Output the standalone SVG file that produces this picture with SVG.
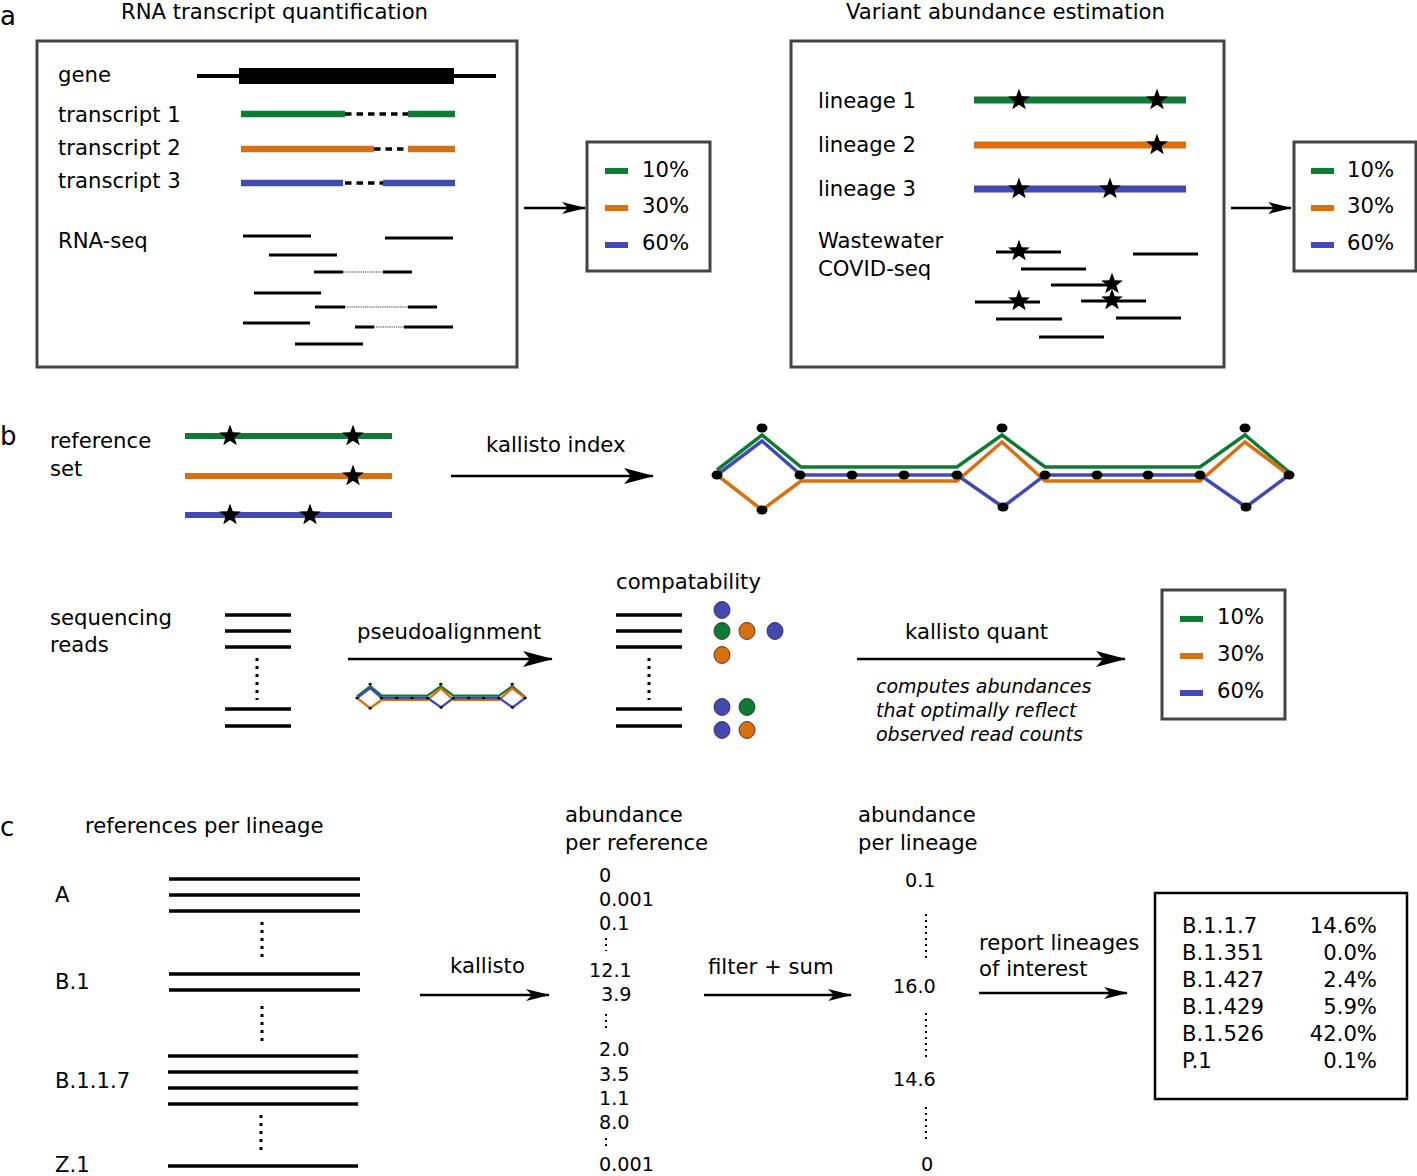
<svg xmlns="http://www.w3.org/2000/svg" xmlns:xlink="http://www.w3.org/1999/xlink" width="1417" height="1176" viewBox="0 0 1417 1176">
<style>
text{font-family:"DejaVu Sans","Liberation Sans",sans-serif;font-size:21.2px;fill:#000}
.lbl{font-size:26px}
.num{font-size:19.2px}
.it{font-size:19px;font-style:italic}
.box{fill:#fff;stroke:#444;stroke-width:3}
.g{stroke:#0f7a33;fill:none}
.o{stroke:#d96f0e;fill:none}
.b{stroke:#4349b3;fill:none}
.tr{stroke-width:6.5}
.ln{stroke-width:7}
.rd{stroke:#000;stroke-width:3}
.dash{stroke:#000;stroke-width:3.5;stroke-dasharray:6.5 5}
.dot{stroke:#333;stroke-width:1.2;stroke-dasharray:1.2 1}
.sw{stroke-width:6}
.arr{stroke:#000;stroke-width:2.5;fill:none}
.ref{stroke:#000;stroke-width:3.5}
.vd{stroke:#000;stroke-width:3;stroke-dasharray:3 5}
.nd{stroke:#000;stroke-width:2;stroke-dasharray:2 4}
.cg{fill:#0f7a33;stroke:#222;stroke-width:0.8}
.co{fill:#d96f0e;stroke:#222;stroke-width:0.8}
.cb{fill:#4349b3;stroke:#222;stroke-width:0.8}
</style>
<defs>
<marker id="ahL" markerUnits="userSpaceOnUse" viewBox="0 0 30 18" refX="29" refY="9" markerWidth="30" markerHeight="18" orient="auto"><path d="M0,1 L30,9 L0,17 L7,9 Z" fill="#000"/></marker>
<marker id="ahS" markerUnits="userSpaceOnUse" viewBox="0 0 24 14" refX="23" refY="7" markerWidth="24" markerHeight="14" orient="auto"><path d="M0,1 L24,7 L0,13 L6,7 Z" fill="#000"/></marker>
<path id="star" d="M0,-11.5 L2.75,-3.8 L10.9,-3.55 L4.45,1.45 L6.75,9.3 L0,4.7 L-6.75,9.3 L-4.45,1.45 L-10.9,-3.55 L-2.75,-3.8 Z" fill="#000"/>
<g id="graph">
<polyline class="g" points="0,-5 45,-40 84,-8 240,-8 285,-40 328,-8 483,-8 528,-40 572,-3"/>
<polyline class="o" points="0,0 45,35 84,6 240,6 285,-33 328,6 483,6 528,-33 572,0"/>
<polyline class="b" points="0,0 45,-34 84,0 240,0 286,32 328,0 483,0 529,32 572,0"/>
<g fill="#000">
<ellipse cx="0" cy="0" rx="5.5" ry="4.5"/><ellipse cx="45" cy="-47" rx="5.5" ry="4.5"/><ellipse cx="45" cy="35" rx="5.5" ry="4.5"/>
<ellipse cx="83" cy="0" rx="5.5" ry="4.5"/><ellipse cx="135" cy="0" rx="5.5" ry="4.5"/><ellipse cx="187" cy="0" rx="5.5" ry="4.5"/><ellipse cx="240" cy="0" rx="5.5" ry="4.5"/>
<ellipse cx="285" cy="-47" rx="5.5" ry="4.5"/><ellipse cx="286" cy="32" rx="5.5" ry="4.5"/>
<ellipse cx="328" cy="0" rx="5.5" ry="4.5"/><ellipse cx="380" cy="0" rx="5.5" ry="4.5"/><ellipse cx="431" cy="0" rx="5.5" ry="4.5"/><ellipse cx="483" cy="0" rx="5.5" ry="4.5"/>
<ellipse cx="528" cy="-47" rx="5.5" ry="4.5"/><ellipse cx="529" cy="32" rx="5.5" ry="4.5"/><ellipse cx="572" cy="0" rx="5.5" ry="4.5"/>
</g>
</g>
</defs>
<rect width="1417" height="1176" fill="#fff"/>

<!-- panel labels -->
<text class="lbl" x="0" y="25">a</text>
<text class="lbl" x="0" y="445">b</text>
<text class="lbl" x="0" y="836">c</text>

<!-- Panel a left -->
<g id="a-rna">
<text x="121" y="19">RNA transcript quantification</text>
<rect class="box" x="37" y="41" width="480" height="326"/>
<text x="58" y="82">gene</text>
<line x1="197" y1="76" x2="496" y2="76" stroke="#000" stroke-width="4"/>
<rect x="239" y="68" width="215" height="16" fill="#000"/>
<text x="58" y="122">transcript 1</text>
<text x="58" y="155">transcript 2</text>
<text x="58" y="188">transcript 3</text>
<line class="g tr" x1="241" y1="114" x2="345" y2="114"/><line class="dash" x1="345" y1="114" x2="408" y2="114"/><line class="g tr" x1="408" y1="114" x2="455" y2="114"/>
<line class="o tr" x1="241" y1="149" x2="374" y2="149"/><line class="dash" x1="374" y1="149" x2="408" y2="149"/><line class="o tr" x1="408" y1="149" x2="455" y2="149"/>
<line class="b tr" x1="241" y1="183" x2="343" y2="183"/><line class="dash" x1="345" y1="183" x2="386" y2="183"/><line class="b tr" x1="383" y1="183" x2="455" y2="183"/>
<text x="58" y="248">RNA-seq</text>
<line class="rd" x1="243" y1="236" x2="311" y2="236"/>
<line class="rd" x1="385" y1="238" x2="453" y2="238"/>
<line class="rd" x1="269" y1="255" x2="337" y2="255"/>
<line class="rd" x1="314" y1="272" x2="343" y2="272"/><line class="dot" x1="343" y1="272" x2="383" y2="272"/><line class="rd" x1="383" y1="272" x2="412" y2="272"/>
<line class="rd" x1="254" y1="293" x2="321" y2="293"/>
<line class="rd" x1="315" y1="307" x2="345" y2="307"/><line class="dot" x1="345" y1="307" x2="408" y2="307"/><line class="rd" x1="408" y1="307" x2="437" y2="307"/>
<line class="rd" x1="243" y1="323" x2="310" y2="323"/>
<line class="rd" x1="355" y1="327" x2="374" y2="327"/><line class="dot" x1="374" y1="327" x2="404" y2="327"/><line class="rd" x1="404" y1="327" x2="453" y2="327"/>
<line class="rd" x1="295" y1="344" x2="363" y2="344"/>
</g>

<g id="a-legend-1">
<rect class="box" x="587" y="142" width="123" height="129"/>
<line class="g sw" x1="605" y1="171" x2="628" y2="171"/><text x="642" y="177">10%</text>
<line class="o sw" x1="605" y1="208" x2="628" y2="208"/><text x="642" y="213">30%</text>
<line class="b sw" x1="605" y1="245" x2="628" y2="245"/><text x="642" y="250">60%</text>
</g>

<!-- Panel a right -->
<g id="a-variant">
<text x="846" y="19">Variant abundance estimation</text>
<rect class="box" x="791" y="41" width="433" height="326"/>
<text x="818" y="108">lineage 1</text>
<text x="818" y="152">lineage 2</text>
<text x="818" y="196">lineage 3</text>
<line class="g ln" x1="974" y1="100" x2="1186" y2="100"/>
<line class="o ln" x1="974" y1="145" x2="1186" y2="145"/>
<line class="b ln" x1="974" y1="189" x2="1186" y2="189"/>
<use xlink:href="#star" x="1019" y="100"/><use xlink:href="#star" x="1157" y="100"/>
<use xlink:href="#star" x="1157" y="145"/>
<use xlink:href="#star" x="1019" y="189"/><use xlink:href="#star" x="1110" y="189"/>
<text x="818" y="248">Wastewater</text>
<text x="818" y="276">COVID-seq</text>
<line class="rd" x1="996" y1="252" x2="1061" y2="252"/>
<line class="rd" x1="1133" y1="254" x2="1198" y2="254"/>
<line class="rd" x1="1021" y1="269" x2="1086" y2="269"/>
<line class="rd" x1="1051" y1="285" x2="1112" y2="285"/>
<line class="rd" x1="975" y1="302" x2="1040" y2="302"/>
<line class="rd" x1="1081" y1="301" x2="1146" y2="301"/>
<line class="rd" x1="996" y1="319" x2="1062" y2="319"/>
<line class="rd" x1="1116" y1="318" x2="1181" y2="318"/>
<line class="rd" x1="1039" y1="337" x2="1104" y2="337"/>
<use xlink:href="#star" x="1019" y="251"/>
<use xlink:href="#star" x="1112" y="284"/>
<use xlink:href="#star" x="1019" y="301"/>
<use xlink:href="#star" x="1112" y="300"/>
</g>

<g id="a-legend-2">
<rect class="box" x="1294" y="142" width="122" height="129"/>
<line class="g sw" x1="1311" y1="171" x2="1334" y2="171"/><text x="1347" y="177">10%</text>
<line class="o sw" x1="1311" y1="208" x2="1334" y2="208"/><text x="1347" y="213">30%</text>
<line class="b sw" x1="1311" y1="245" x2="1334" y2="245"/><text x="1347" y="250">60%</text>
</g>

<!-- Panel b -->
<g id="b-refset">
<text x="50" y="448">reference</text>
<text x="50" y="476">set</text>
<line class="g sw" x1="185" y1="436" x2="392" y2="436"/>
<line class="o sw" x1="185" y1="476" x2="392" y2="476"/>
<line class="b sw" x1="185" y1="515" x2="392" y2="515"/>
<use xlink:href="#star" x="230" y="436"/><use xlink:href="#star" x="353" y="436"/>
<use xlink:href="#star" x="353" y="476"/>
<use xlink:href="#star" x="230" y="515"/><use xlink:href="#star" x="310" y="515"/>
</g>

<g id="b-graph">
<use xlink:href="#graph" transform="translate(717,475)" stroke-width="3.5"/>
</g>

<g id="b-reads">
<text x="50" y="625">sequencing</text>
<text x="50" y="652">reads</text>
<line class="ref" x1="225" y1="615" x2="291" y2="615"/>
<line class="ref" x1="225" y1="631" x2="291" y2="631"/>
<line class="ref" x1="225" y1="647" x2="291" y2="647"/>
<line class="vd" x1="257" y1="658" x2="257" y2="700"/>
<line class="ref" x1="225" y1="709" x2="291" y2="709"/>
<line class="ref" x1="225" y1="726" x2="291" y2="726"/>
</g>

<g id="b-small-graph">
<use xlink:href="#graph" transform="translate(357,698) scale(0.294)" stroke-width="8"/>
</g>

<g id="b-compat">
<text x="616" y="589">compatability</text>
<line class="ref" x1="616" y1="615" x2="682" y2="615"/>
<line class="ref" x1="616" y1="631" x2="682" y2="631"/>
<line class="ref" x1="616" y1="647" x2="682" y2="647"/>
<line class="vd" x1="649" y1="658" x2="649" y2="700"/>
<line class="ref" x1="616" y1="709" x2="682" y2="709"/>
<line class="ref" x1="616" y1="726" x2="682" y2="726"/>
<ellipse class="cb" cx="722" cy="610" rx="8" ry="8.5"/>
<ellipse class="cg" cx="722" cy="631" rx="8" ry="8.5"/>
<ellipse class="co" cx="747" cy="631" rx="8" ry="8.5"/>
<ellipse class="cb" cx="775" cy="631" rx="8" ry="8.5"/>
<ellipse class="co" cx="722" cy="655" rx="8" ry="8.5"/>
<ellipse class="cb" cx="722" cy="707" rx="8" ry="8.5"/>
<ellipse class="cg" cx="747" cy="707" rx="8" ry="8.5"/>
<ellipse class="cb" cx="722" cy="730" rx="8" ry="8.5"/>
<ellipse class="co" cx="747" cy="730" rx="8" ry="8.5"/>
</g>

<g id="b-quant-text">
<text x="486" y="452">kallisto index</text>
<text x="357" y="639">pseudoalignment</text>
<text x="905" y="639">kallisto quant</text>
<text class="it" x="876" y="693">computes abundances</text>
<text class="it" x="876" y="717">that optimally reflect</text>
<text class="it" x="876" y="741">observed read counts</text>
</g>

<g id="b-legend">
<rect class="box" x="1162" y="590" width="123" height="129"/>
<line class="g sw" x1="1180" y1="619" x2="1203" y2="619"/><text x="1217" y="624">10%</text>
<line class="o sw" x1="1180" y1="656" x2="1203" y2="656"/><text x="1217" y="661">30%</text>
<line class="b sw" x1="1180" y1="693" x2="1203" y2="693"/><text x="1217" y="698">60%</text>
</g>

<!-- Panel c -->
<g id="c-refs">
<text x="85" y="833">references per lineage</text>
<text x="55" y="902">A</text>
<text x="55" y="989">B.1</text>
<text x="55" y="1088">B.1.1.7</text>
<text x="55" y="1172">Z.1</text>
<line class="ref" x1="169" y1="879" x2="360" y2="879"/>
<line class="ref" x1="169" y1="895" x2="360" y2="895"/>
<line class="ref" x1="169" y1="911" x2="360" y2="911"/>
<line class="vd" x1="262" y1="922" x2="262" y2="960"/>
<line class="ref" x1="169" y1="974" x2="360" y2="974"/>
<line class="ref" x1="169" y1="990" x2="360" y2="990"/>
<line class="vd" x1="262" y1="1006" x2="262" y2="1044"/>
<line class="ref" x1="168" y1="1056" x2="358" y2="1056"/>
<line class="ref" x1="168" y1="1072" x2="358" y2="1072"/>
<line class="ref" x1="168" y1="1088" x2="358" y2="1088"/>
<line class="ref" x1="168" y1="1104" x2="358" y2="1104"/>
<line class="vd" x1="261" y1="1115" x2="261" y2="1151"/>
<line class="ref" x1="168" y1="1166" x2="358" y2="1166"/>
</g>

<g id="c-per-ref">
<text x="565" y="822">abundance</text>
<text x="565" y="850">per reference</text>
<text class="num" x="599" y="882">0</text>
<text class="num" x="599" y="906">0.001</text>
<text class="num" x="599" y="930">0.1</text>
<line class="nd" x1="606" y1="938" x2="606" y2="951"/>
<text class="num" x="589" y="977">12.1</text>
<text class="num" x="601" y="1001">3.9</text>
<line class="nd" x1="606" y1="1014" x2="606" y2="1028"/>
<text class="num" x="599" y="1056">2.0</text>
<text class="num" x="599" y="1081">3.5</text>
<text class="num" x="599" y="1105">1.1</text>
<text class="num" x="599" y="1129">8.0</text>
<line class="nd" x1="606" y1="1138" x2="606" y2="1150"/>
<text class="num" x="599" y="1171">0.001</text>
</g>

<g id="c-per-lineage">
<text x="858" y="822">abundance</text>
<text x="858" y="850">per lineage</text>
<text class="num" x="905" y="887">0.1</text>
<line class="nd" x1="926" y1="914" x2="926" y2="960"/>
<text class="num" x="893" y="993">16.0</text>
<line class="nd" x1="926" y1="1013" x2="926" y2="1058"/>
<text class="num" x="893" y="1086">14.6</text>
<line class="nd" x1="926" y1="1107" x2="926" y2="1139"/>
<text class="num" x="921" y="1171">0</text>
</g>

<g id="c-labels">
<text x="450" y="973">kallisto</text>
<text x="708" y="974">filter + sum</text>
<text x="979" y="950">report lineages</text>
<text x="979" y="976">of interest</text>
</g>

<g id="c-result">
<rect x="1155" y="893" width="252" height="206" fill="#fff" stroke="#000" stroke-width="2.5"/>
<text x="1182" y="933">B.1.1.7</text><text x="1377" y="933" text-anchor="end">14.6%</text>
<text x="1182" y="960">B.1.351</text><text x="1377" y="960" text-anchor="end">0.0%</text>
<text x="1182" y="987">B.1.427</text><text x="1377" y="987" text-anchor="end">2.4%</text>
<text x="1182" y="1014">B.1.429</text><text x="1377" y="1014" text-anchor="end">5.9%</text>
<text x="1182" y="1041">B.1.526</text><text x="1377" y="1041" text-anchor="end">42.0%</text>
<text x="1182" y="1068">P.1</text><text x="1377" y="1068" text-anchor="end">0.1%</text>
</g>

<!-- connectors -->
<g id="connectors">
<line class="arr" x1="524" y1="208" x2="585" y2="208" marker-end="url(#ahS)"/>
<line class="arr" x1="1231" y1="208" x2="1291" y2="208" marker-end="url(#ahS)"/>
<line class="arr" x1="451" y1="476" x2="653" y2="476" marker-end="url(#ahL)"/>
<line class="arr" x1="348" y1="659" x2="552" y2="659" marker-end="url(#ahL)"/>
<line class="arr" x1="857" y1="659" x2="1125" y2="659" marker-end="url(#ahL)"/>
<line class="arr" x1="420" y1="995" x2="549" y2="995" marker-end="url(#ahS)"/>
<line class="arr" x1="704" y1="995" x2="851" y2="995" marker-end="url(#ahS)"/>
<line class="arr" x1="979" y1="993" x2="1127" y2="993" marker-end="url(#ahS)"/>
</g>
</svg>
